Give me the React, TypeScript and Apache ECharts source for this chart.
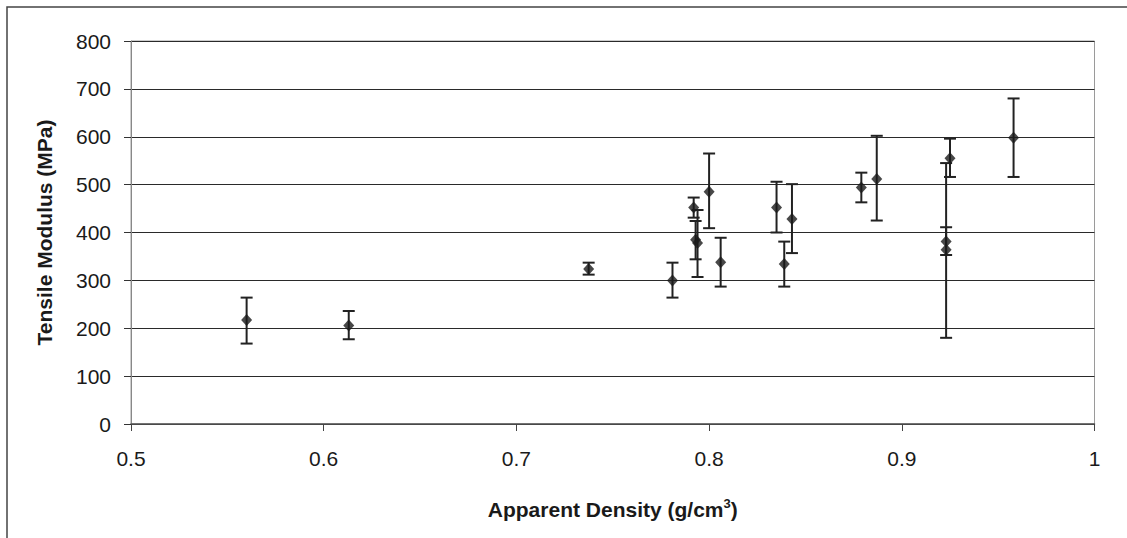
import React, { useEffect, useRef } from "react";
import * as echarts from "echarts";

const density = [0.560, 0.613, 0.7375, 0.781, 0.792, 0.793, 0.794, 0.800, 0.806, 0.835, 0.839, 0.843, 0.879, 0.887, 0.923, 0.923, 0.925, 0.958];
const modulus = [217, 206, 324, 300, 452, 385, 378, 485, 338, 452, 334, 428, 494, 512, 381, 364, 555, 598];
const errLow = [168, 177, 312, 264, 431, 344, 307, 409, 287, 400, 287, 357, 463, 425, 353, 180, 516, 516];
const errHigh = [264, 236, 337, 337, 473, 424, 447, 565, 389, 506, 381, 501, 525, 602, 411, 545, 596, 680];
const yTicks = [0, 100, 200, 300, 400, 500, 600, 700, 800];
const xTickLabels = ["0.5", "0.6", "0.7", "0.8", "0.9", "1"];

const FONT = "Arial, 'Liberation Sans', sans-serif";

export default function App() {
  const ref = useRef<HTMLDivElement>(null);
  useEffect(() => {
    document.body.style.margin = "0";
    const chart = echarts.init(ref.current!, undefined, { renderer: "svg" });
    const points = density.map((d, i) => [d, modulus[i]]);
    const bars = density.map((d, i) => [d, errLow[i], errHigh[i]]);
    chart.setOption({
      animation: false,
      backgroundColor: "#ffffff",
      graphic: [
        {
          type: "rect",
          shape: { x: 7, y: 7, width: 1200, height: 700 },
          style: { fill: "none", stroke: "#444", lineWidth: 1.5 },
          silent: true,
          z: -10,
        },
      ],
      grid: {
        left: 131,
        right: 32.5,
        top: 41,
        bottom: 114,
        show: true,
        borderColor: "#9a9a9a",
        borderWidth: 1,
      },
      xAxis: {
        type: "value",
        min: 0.5,
        max: 1,
        interval: 0.1,
        name: "{a|Apparent Density (g/cm}{s|3}{a|)}",
        nameLocation: "middle",
        nameGap: 73,
        nameTextStyle: {
          rich: {
            a: { fontFamily: FONT, fontSize: 21, fontWeight: "bold", color: "#1a1a1a" },
            s: { fontFamily: FONT, fontSize: 13, fontWeight: "bold", color: "#1a1a1a", verticalAlign: "top", padding: [0, 0, 12, 0] },
          },
        },
        axisLine: { show: true, lineStyle: { color: "#555", width: 1.5 } },
        axisTick: { show: true, inside: false, length: 7, lineStyle: { color: "#444", width: 1 } },
        axisLabel: {
          fontFamily: FONT,
          fontSize: 21,
          color: "#1a1a1a",
          margin: 24,
          formatter: (v: number) => {
            const idx = Math.round((v - 0.5) / 0.1);
            return xTickLabels[idx] ?? "";
          },
        },
        splitLine: { show: false },
      },
      yAxis: {
        type: "value",
        min: 0,
        max: 800,
        interval: 100,
        name: "Tensile Modulus (MPa)",
        nameLocation: "middle",
        nameGap: 76,
        nameTextStyle: { fontFamily: FONT, fontSize: 21, fontWeight: "bold", color: "#1a1a1a" },
        axisLine: { show: true, lineStyle: { color: "#888", width: 1 } },
        axisTick: { show: true, inside: false, length: 7, lineStyle: { color: "#333", width: 1 } },
        axisLabel: {
          fontFamily: FONT,
          fontSize: 21,
          color: "#1a1a1a",
          margin: 20,
          formatter: (v: number) => (yTicks.includes(v) ? String(v) : ""),
        },
        splitLine: { show: true, lineStyle: { color: "#2a2a2a", width: 1.2 } },
      },
      series: [
        {
          type: "custom",
          data: bars,
          encode: { x: 0, y: [1, 2] },
          z: 3,
          renderItem: (params: any, api: any) => {
            const x = api.value(0);
            const lo = api.coord([x, api.value(1)]);
            const hi = api.coord([x, api.value(2)]);
            const w = 6;
            const st = { stroke: "#222", lineWidth: 2 };
            return {
              type: "group",
              children: [
                { type: "line", shape: { x1: lo[0], y1: lo[1], x2: hi[0], y2: hi[1] }, style: st },
                { type: "line", shape: { x1: lo[0] - w, y1: lo[1], x2: lo[0] + w, y2: lo[1] }, style: st },
                { type: "line", shape: { x1: hi[0] - w, y1: hi[1], x2: hi[0] + w, y2: hi[1] }, style: st },
              ],
            };
          },
        },
        {
          type: "scatter",
          data: points,
          symbol: "diamond",
          symbolSize: [11, 12],
          itemStyle: { color: "#1a1a1a" },
          z: 5,
        },
      ],
    });
    return () => chart.dispose();
  }, []);
  return <div ref={ref} style={{ width: 1127, height: 538 }} />;
}
